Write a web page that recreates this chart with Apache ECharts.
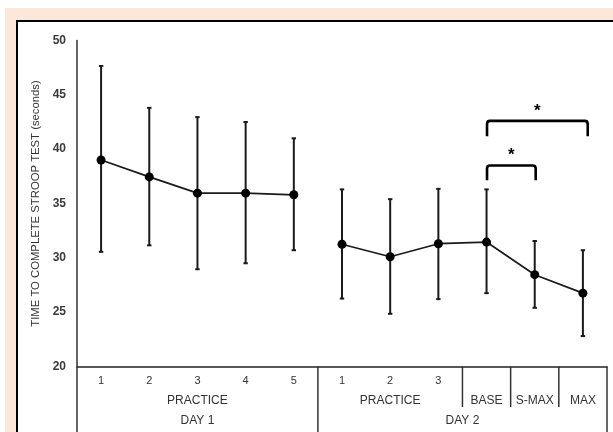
<!DOCTYPE html>
<html>
<head>
<meta charset="utf-8">
<script src="https://cdn.jsdelivr.net/npm/echarts@6/dist/echarts.min.js"></script>
<style>
  html, body { margin: 0; padding: 0; background: #ffffff; }
  #frame { position: absolute; left: 5px; top: 8px; width: 608px; height: 424px; background: #FBE8DB; }
  #panel { position: absolute; left: 16px; top: 20px; width: 597px; height: 412px; background: #ffffff;
           border-left: 2px solid #000; border-top: 2px solid #000; box-sizing: border-box; }
  #chart { position: absolute; left: 0; top: 0; width: 613px; height: 432px; }
</style>
</head>
<body>
<div id="frame"></div>
<div id="panel"></div>
<div id="chart"></div>
<script>
// ---- data ----
var tickLabels  = ['1', '2', '3', '4', '5', '1', '2', '3', '', '', ''];
var groupLabels = ['', '', 'PRACTICE', '', '', '', 'PRACTICE', '', 'BASE', 'S-MAX', 'MAX'];
var dayLabels   = [[2.5, 'DAY 1'], [8, 'DAY 2']];
var means = [39.0, 37.45, 35.95, 35.95, 35.8, 31.25, 30.1, 31.3, 31.45, 28.45, 26.75];
var upper = [47.65, 43.8, 42.95, 42.5, 41.0, 36.3, 35.4, 36.35, 36.3, 31.55, 30.7];
var lower = [30.55, 31.15, 28.95, 29.5, 30.7, 26.25, 24.85, 26.2, 26.75, 25.4, 22.8];
var day1Count = 5;
// significance brackets: [fromIndex, toIndex, topValue, legBottomValue, starValue]
var brackets = [[8.01, 10.1, 42.6, 41.2, 43.5], [8.01, 9.02, 38.5, 37.15, 39.4]];
// category boundaries for separator lines: [boundaryIndex, long(1)/short(0)]
var separators = [[0, 1], [5, 1], [8, 0], [9, 0], [10, 0], [11, 1]];

var n = tickLabels.length;
var idx = tickLabels.map(function (_, i) { return i; });
var day1Data = means.map(function (v, i) { return i < day1Count ? v : '-'; });
var day2Data = means.map(function (v, i) { return i >= day1Count ? v : '-'; });
var errData = idx.map(function (i) { return [i, lower[i], upper[i]]; });

var chart = echarts.init(document.getElementById('chart'), null, { renderer: 'canvas' });
var lineColor = '#1a1a1a';

var option = {
  animation: false,
  grid: { left: 77, right: 6, top: 40.5, bottom: 65.5, containLabel: false },
  xAxis: [
    {
      type: 'category', data: tickLabels, position: 'bottom', boundaryGap: true,
      axisLine: { show: true, lineStyle: { color: '#222', width: 1.5 } },
      axisTick: { show: false },
      axisLabel: { interval: 0, margin: 9, fontSize: 11, color: '#333', fontFamily: 'Liberation Sans, Arial' }
    },
    {
      type: 'category', data: groupLabels, position: 'bottom', offset: 19, boundaryGap: true,
      axisLine: { show: false }, axisTick: { show: false },
      axisLabel: { interval: 0, margin: 9, fontSize: 12, color: '#333', fontFamily: 'Liberation Sans, Arial' }
    },
    {
      type: 'value', min: 0, max: n, interval: 0.5, position: 'bottom', offset: 39,
      axisLine: { show: false }, axisTick: { show: false }, splitLine: { show: false },
      axisLabel: {
        margin: 9, fontSize: 12, color: '#333', fontFamily: 'Liberation Sans, Arial',
        showMinLabel: true, showMaxLabel: true,
        formatter: function (v) {
          for (var k = 0; k < dayLabels.length; k++) { if (Math.abs(dayLabels[k][0] - v) < 1e-6) return dayLabels[k][1]; }
          return '';
        }
      }
    }
  ],
  yAxis: {
    type: 'value', min: 20, max: 50, interval: 5,
    name: 'TIME TO COMPLETE STROOP TEST (seconds)', nameLocation: 'middle', nameGap: 35,
    nameTextStyle: { fontSize: 11.3, color: '#333', fontFamily: 'Liberation Sans, Arial' },
    axisLine: { show: true, lineStyle: { color: '#333', width: 1.5 } },
    axisTick: { show: false }, splitLine: { show: false },
    axisLabel: { margin: 11, fontSize: 12, fontWeight: 'bold', color: '#3a3a3a', fontFamily: 'Liberation Sans, Arial' }
  },
  series: [
    {
      type: 'custom', xAxisIndex: 0, data: errData, z: 2,
      renderItem: function (params, api) {
        var i = api.value(0);
        var lo = api.coord([i, api.value(1)]);
        var hi = api.coord([i, api.value(2)]);
        var cw = 2.2;
        var st = { stroke: lineColor, lineWidth: 2 };
        return { type: 'group', children: [
          { type: 'line', shape: { x1: lo[0], y1: lo[1], x2: hi[0], y2: hi[1] }, style: st },
          { type: 'line', shape: { x1: lo[0] - cw, y1: lo[1], x2: lo[0] + cw, y2: lo[1] }, style: st },
          { type: 'line', shape: { x1: hi[0] - cw, y1: hi[1], x2: hi[0] + cw, y2: hi[1] }, style: st }
        ] };
      }
    },
    {
      type: 'line', xAxisIndex: 0, data: day1Data, symbol: 'circle', symbolSize: 9, z: 3,
      itemStyle: { color: '#000' }, lineStyle: { color: lineColor, width: 1.7 }
    },
    {
      type: 'line', xAxisIndex: 0, data: day2Data, symbol: 'circle', symbolSize: 9, z: 3,
      itemStyle: { color: '#000' }, lineStyle: { color: lineColor, width: 1.7 }
    },
    {
      type: 'custom', xAxisIndex: 0, data: brackets, z: 4,
      renderItem: function (params, api) {
        var bw = api.size([1, 0])[0];
        var c0 = api.coord([0, api.value(2)]);
        var x1 = c0[0] + api.value(0) * bw;
        var x2 = c0[0] + api.value(1) * bw;
        var y = c0[1];
        var bottom = api.coord([0, api.value(3)])[1];
        var starY = api.coord([0, api.value(4)])[1];
        var r = 3;
        return { type: 'group', children: [
          { type: 'path', shape: { pathData:
              'M' + x1 + ' ' + bottom + ' L' + x1 + ' ' + (y + r) + ' Q' + x1 + ' ' + y + ' ' + (x1 + r) + ' ' + y +
              ' L' + (x2 - r) + ' ' + y + ' Q' + x2 + ' ' + y + ' ' + x2 + ' ' + (y + r) + ' L' + x2 + ' ' + bottom },
            style: { stroke: '#000', lineWidth: 2.6, fill: null } },
          { type: 'text', x: (x1 + x2) / 2, y: starY,
            style: { text: '*', fontSize: 17, fontWeight: 'bold', fill: '#000', align: 'center', verticalAlign: 'middle', fontFamily: 'Liberation Sans, Arial' } }
        ] };
      }
    },
    {
      type: 'custom', xAxisIndex: 0, data: separators, clip: false, z: 1, silent: true,
      renderItem: function (params, api) {
        var bw = api.size([1, 0])[0];
        var c0 = api.coord([0, 20]);
        var x = c0[0] - bw / 2 + api.value(0) * bw;
        var y0 = c0[1];
        var y1 = api.value(1) ? 432 : 407;
        return { type: 'line', shape: { x1: x, y1: y0, x2: x, y2: y1 }, style: { stroke: '#333', lineWidth: 1.5 } };
      }
    }
  ]
};
chart.setOption(option);
</script>
</body>
</html>
